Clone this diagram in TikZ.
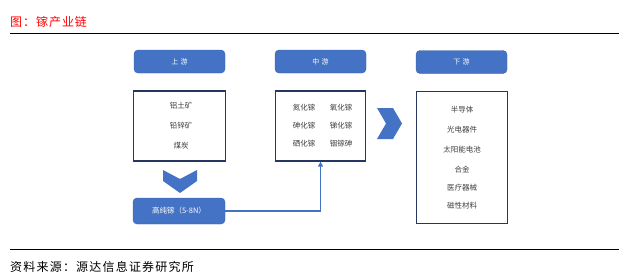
\documentclass[tikz,border=0pt]{standalone}
\usepackage{fontspec}
\setmainfont{Noto Sans CJK SC}
\usetikzlibrary{arrows.meta, positioning}
\tikzset{every node/.append style={align=center}}
\definecolor{headblue}{RGB}{68,114,196}
\definecolor{boxnavy}{RGB}{38,54,96}
\definecolor{itemgray}{RGB}{64,64,64}
\definecolor{titlered}{RGB}{255,0,0}
\tikzset{
  headbox/.style={fill=headblue, draw=headblue!85!black, line width=0.4pt,
                  rounded corners=4pt, minimum width=91pt, minimum height=23pt,
                  inner sep=0pt, text=white, font=\fontsize{7}{8}\selectfont},
  listbox/.style={draw=boxnavy, line width=1.3pt, fill=white, inner sep=0pt},
  item/.style={text=itemgray, font=\fontsize{7.5}{8}\selectfont, inner sep=0pt},
  chevron/.style={fill=headblue},
  flow/.style={headblue, line width=1.4pt, -{Triangle[width=5pt,length=5pt]}}
}

\begin{document}
\begin{tikzpicture}[x=1pt,y=-1pt]
\useasboundingbox (0,0) rectangle (634,276);

% ── Title and rules ─────────────────────────────────────────────────────────
\node[anchor=west, text=titlered, inner sep=0pt,
      font=\fontsize{12}{14}\selectfont\addfontfeature{LetterSpace=8}] (title) at (10,22) {图：镓产业链};
\draw[line width=1pt] (10,33) -- (619,33);
\draw[line width=1pt] (10,249) -- (619,249);
\node[anchor=west, inner sep=0pt,
      font=\fontsize{12}{14}\selectfont\addfontfeature{LetterSpace=10}] (source) at (10,267) {资料来源：源达信息证券研究所};

% ── Stage headers ───────────────────────────────────────────────────────────
\node[headbox] (uphead)   at (179.5,61.5) {上\,\,游};
\node[headbox] (midhead)  at (320.5,61.5) {中\,\,游};
\node[headbox] (downhead) at (461.5,62)   {下\,\,游};

% ── Content boxes ───────────────────────────────────────────────────────────
\node[listbox, minimum width=92pt, minimum height=70pt]  (upbox)   at (179.5,126) {};
\node[listbox, minimum width=90pt, minimum height=70pt]  (midbox)  at (320.5,126) {};
\node[listbox, minimum width=91pt, minimum height=132pt] (downbox) at (462,157.5) {};

% upstream raw materials
\foreach \y/\lbl [count=\i] in {106/铝土矿, 126/铅锌矿, 146/煤炭} {
  \node[item] (up-\i) at (181,\y) {\lbl};
}

% midstream compounds
\foreach \y/\la/\lb [count=\i] in {108/氮化镓/氧化镓, 126/砷化镓/锑化镓, 144/硒化镓/铟镓砷} {
  \node[item] (midl-\i) at (304,\y) {\la};
  \node[item] (midr-\i) at (341,\y) {\lb};
}

% downstream applications
\foreach \y/\lbl [count=\i] in {110/半导体, 130/光电器件, 150/太阳能电池,
                                170/合金, 188/医疗器械, 206/磁性材料} {
  \node[item] (down-\i) at (462,\y) {\lbl};
}

% ── High-purity gallium and flow ────────────────────────────────────────────
\node[headbox, minimum width=92pt, minimum height=26pt,
      font=\fontsize{7.5}{8}\selectfont] (pure) at (179,211) {高纯镓（5-8N）};

% chevrons
\fill[chevron] (163,170) -- (180,179) -- (197,170) -- (197,181)
               -- (180,193) -- (163,181) -- cycle;
\fill[chevron] (377,108) -- (393,108) -- (402,123.5) -- (393,139)
               -- (377,139) -- (386,123.5) -- cycle;

\draw[flow] (pure.east) -| (midbox.south);

\end{tikzpicture}
\end{document}
